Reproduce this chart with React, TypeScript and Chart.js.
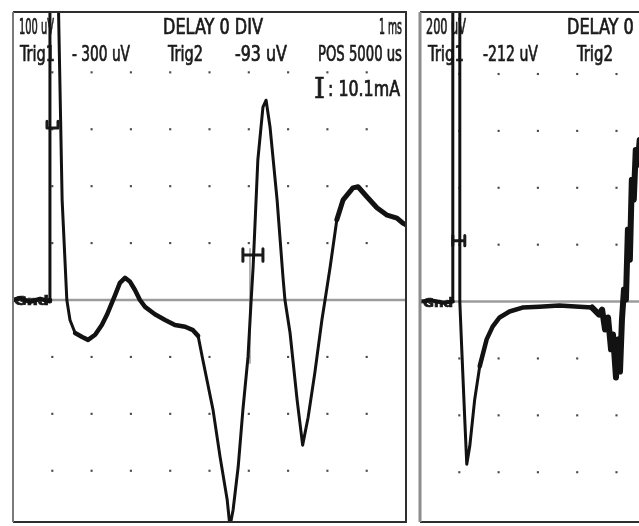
import React, { useEffect, useRef } from "react";
import { Chart, registerables } from "chart.js";

Chart.register(...registerables);

// ---------- Left sweep (1 ms/div, 100 uV/div) ----------
const leftTime = [
  0, 0.18, 0.43, 0.69, 0.92, 0.94, 0.94, 1.15, 1.25, 1.37, 1.45, 1.58, 1.76, 1.91, 2.09, 2.26,
  2.39, 2.6, 2.72, 2.85, 2.98, 3.1, 3.23, 3.36, 3.61, 3.87, 4.12, 4.38, 4.58, 4.71, 4.83, 5.09,
  5.27, 5.45, 5.52, 5.6, 5.73, 5.85, 5.98, 6.06, 6.11, 6.23, 6.36, 6.44, 6.54, 6.72, 6.87, 6.92,
  7.05, 7.23, 7.37, 7.51, 7.68, 7.86, 7.94, 8.07, 8.24, 8.4, 8.65, 8.78, 9.01, 9.26, 9.52, 9.77,
  9.92, 10,
];
const leftVolt = [
  0, 3, -3, 2, -2, 0, 540, 540, 176, 0, -35, -58, -65, -70, -61, -44,
  -26, 9, 30, 39, 32, 18, 0, -12, -25, -35, -44, -47, -53, -63, -105, -193,
  -276, -351, -398, -369, -293, -193, -100, 0, 58, 246, 339, 351, 304, 176, 40, 0,
  -58, -176, -255, -206, -128, -35, 0, 58, 141, 176, 197, 199, 181, 162, 149, 144,
  135, 132,
];
// time ranges (ms) where the scanned trace is thick / noisy
const leftNoisyFrom = [0, 1.6, 8.3];
const leftNoisyTo = [0.93, 4.75, 10];
const leftNoisyWidth = [4.5, 4.5, 5];
const leftMarkTime = [0.865, 0.865, 1.145, 1.145];
const leftMarkVolt = [314, 302, 302, 314];
const leftCursorTime = [5.85, 5.85, 5.85, 6.36, 6.36, 6.36];
const leftCursorVolt = [90, 68, 79, 79, 90, 68];
const leftGuideTime = [6.03, 6.03];
const leftGuideVolt = [90, -111];
const leftGridTimes = [1, 2, 3, 4, 5, 6, 7, 8, 9];
const leftGridVolts = [400, 300, 200, 100, -100, -200, -300];

// ---------- Right sweep (200 uV/div) ----------
const rightTime = [
  0, 0.3, 0.6, 0.835, 0.835, 1.013, 1.013, 1.063, 1.139, 1.19, 1.266, 1.392, 1.519, 1.696,
  1.848, 2.025, 2.278, 2.608, 3.038, 3.544, 4.051, 4.38, 4.557, 4.633, 4.709, 4.785, 4.861,
  4.911, 4.987, 5.038, 5.089, 5.139, 5.19, 5.24, 5.29, 5.34, 5.39, 5.44, 5.49, 5.54, 5.59,
];
const rightVolt = [
  0, 4, -4, 0, 1100, 1100, 0, -168, -414, -572, -509, -344, -228, -133,
  -88, -56, -35, -21, -18, -14, -18, -21, -46, -28, -98, -56, -168,
  -116, -267, -133, -246, -63, 42, 7, 253, 147, 428, 358, 533, 481, 568,
];
const rightNoisyFrom = [0, 1.6, 4.4];
const rightNoisyTo = [0.83, 4.4, 6];
const rightNoisyWidth = [4, 4.5, 6];
const rightMarkTime = [0.835, 0.835, 0.835, 1.14, 1.14, 1.14];
const rightMarkVolt = [232, 196, 214, 214, 232, 196];
const rightGridTimes = [1, 2, 3, 4, 5, 6, 7, 8, 9];
const rightGridVolts = [800, 600, 400, 200, -200, -400, -600];

// ---------- Screen texts ----------
const leftTexts = ["100 uV", "DELAY 0 DIV", "1 ms", "Trig1", "- 300 uV", "Trig2", "-93 uV", "POS 5000 us", "I", ": 10.1mA", "Gnd"];
const rightTexts = ["200 uV", "DELAY 0 DIV", "Trig1", "-212 uV", "Trig2", "Gnd"];

type Label = { text: string; x: number; y: number; w: number; size: number; bold?: boolean; serif?: boolean };

const FONT = `"Liberation Sans Narrow", "DejaVu Sans Condensed", "Liberation Sans", sans-serif`;
const SERIF = `"DejaVu Serif", "Liberation Serif", serif`;

const leftLabels: Label[] = [
  { text: leftTexts[0], x: 19, y: 34, w: 35, size: 21 },
  { text: leftTexts[1], x: 163, y: 34, w: 100, size: 21 },
  { text: leftTexts[2], x: 379, y: 34, w: 23, size: 21 },
  { text: leftTexts[3], x: 20, y: 61, w: 35, size: 21 },
  { text: leftTexts[4], x: 72, y: 61, w: 58, size: 21 },
  { text: leftTexts[5], x: 168, y: 61, w: 35, size: 21 },
  { text: leftTexts[6], x: 235, y: 61, w: 52, size: 21 },
  { text: leftTexts[7], x: 318, y: 61, w: 84, size: 21 },
  { text: leftTexts[8], x: 314, y: 98, w: 11, size: 28, serif: true },
  { text: leftTexts[9], x: 328, y: 96, w: 72, size: 21 },
  { text: leftTexts[10], x: 14, y: 305, w: 35, size: 13, bold: true },
];
const rightLabels: Label[] = [
  { text: rightTexts[0], x: 426, y: 34, w: 40, size: 21 },
  { text: rightTexts[1], x: 567, y: 34, w: 100, size: 21 },
  { text: rightTexts[2], x: 428, y: 61, w: 36, size: 21 },
  { text: rightTexts[3], x: 483, y: 61, w: 55, size: 21 },
  { text: rightTexts[4], x: 577, y: 61, w: 36, size: 21 },
  { text: rightTexts[5], x: 423, y: 307, w: 30, size: 13, bold: true },
];

const BASE_WIDTH = 3;

const pts = (xs: number[], ys: number[]) => xs.map((x, i) => ({ x, y: ys[i] }));
const grid = (ts: number[], vs: number[]) => {
  const out: { x: number; y: number }[] = [];
  vs.forEach((v) => ts.forEach((t) => out.push({ x: t, y: v })));
  return out;
};

function overlay(id: string, labels: Label[], offsetX: number, leftColor: string, leftWidth: number) {
  return {
    id,
    beforeDatasetsDraw(chart: any) {
      const ctx = chart.ctx as CanvasRenderingContext2D;
      ctx.save();
      ctx.fillStyle = "#1a1a1a";
      ctx.strokeStyle = "#1a1a1a";
      ctx.lineWidth = 0.7;
      ctx.textBaseline = "alphabetic";
      for (const l of labels) {
        ctx.font = `${l.bold ? "bold " : ""}${l.size}px ${l.serif ? SERIF : FONT}`;
        const m = ctx.measureText(l.text).width || 1;
        ctx.save();
        ctx.translate(l.x - offsetX, l.y);
        ctx.scale(l.w / m, 1);
        ctx.fillText(l.text, 0, 0);
        ctx.strokeText(l.text, 0, 0);
        ctx.restore();
      }
      ctx.restore();
    },
    afterDraw(chart: any) {
      const ctx = chart.ctx as CanvasRenderingContext2D;
      const a = chart.chartArea;
      ctx.save();
      ctx.strokeStyle = "#2e2e2e";
      ctx.lineWidth = 2;
      ctx.beginPath();
      ctx.moveTo(a.left, a.top);
      ctx.lineTo(a.right, a.top);
      ctx.lineTo(a.right, a.bottom);
      ctx.lineTo(a.left, a.bottom);
      ctx.stroke();
      ctx.strokeStyle = leftColor;
      ctx.lineWidth = leftWidth;
      ctx.beginPath();
      ctx.moveTo(a.left, a.top);
      ctx.lineTo(a.left, a.bottom);
      ctx.stroke();
      ctx.restore();
    },
  };
}

function lineSet(data: { x: number; y: number }[], color: string, width: number, order: number) {
  return {
    data,
    showLine: true,
    borderColor: color,
    backgroundColor: color,
    borderWidth: width,
    pointRadius: 0,
    tension: 0,
    borderJoinStyle: "round" as const,
    borderCapStyle: "round" as const,
    order,
  };
}

function makeConfig(opts: {
  trace: { x: number; y: number }[];
  noisyFrom: number[];
  noisyTo: number[];
  noisyWidth: number[];
  marks: { x: number; y: number }[][];
  guide?: { x: number; y: number }[];
  dots: { x: number; y: number }[];
  yMin: number;
  yMax: number;
  padding: { left: number; right: number; top: number; bottom: number };
  plugin: any;
}) {
  const trace: any = lineSet(opts.trace, "#121212", BASE_WIDTH, 0);
  trace.segment = {
    borderWidth: (c: any) => {
      const mid = (c.p0.parsed.x + c.p1.parsed.x) / 2;
      for (let i = 0; i < opts.noisyFrom.length; i++) {
        if (mid >= opts.noisyFrom[i] && mid <= opts.noisyTo[i]) return opts.noisyWidth[i];
      }
      return BASE_WIDTH;
    },
  };
  const datasets: any[] = [trace];
  opts.marks.forEach((m) => datasets.push(lineSet(m, "#1a1a1a", 3, 1)));
  if (opts.guide) datasets.push(lineSet(opts.guide, "#9a9a9a", 1.5, 2));
  datasets.push(lineSet([{ x: 0, y: 0 }, { x: 10, y: 0 }], "#9c9c9c", 2.5, 3));
  datasets.push({
    data: opts.dots,
    showLine: false,
    pointStyle: "rect",
    pointRadius: 1.5,
    pointBackgroundColor: "#4a4a4a",
    pointBorderWidth: 0,
    order: 4,
  });
  return {
    type: "scatter" as const,
    data: { datasets },
    options: {
      animation: false as const,
      responsive: false,
      events: [] as any[],
      layout: { padding: opts.padding },
      plugins: { legend: { display: false }, tooltip: { enabled: false }, title: { display: false } },
      scales: {
        x: { type: "linear" as const, min: 0, max: 10, display: false },
        y: { type: "linear" as const, min: opts.yMin, max: opts.yMax, display: false },
      },
    },
    plugins: [opts.plugin],
  };
}

export default function App() {
  const leftRef = useRef<HTMLCanvasElement>(null);
  const rightRef = useRef<HTMLCanvasElement>(null);

  useEffect(() => {
    const left = new Chart(
      leftRef.current as HTMLCanvasElement,
      makeConfig({
        trace: pts(leftTime, leftVolt),
        noisyFrom: leftNoisyFrom,
        noisyTo: leftNoisyTo,
        noisyWidth: leftNoisyWidth,
        marks: [pts(leftMarkTime, leftMarkVolt), pts(leftCursorTime, leftCursorVolt)],
        guide: pts(leftGuideTime, leftGuideVolt),
        dots: grid(leftGridTimes, leftGridVolts),
        yMin: -390,
        yMax: 506,
        padding: { left: 13, right: 4, top: 12, bottom: 4 },
        plugin: overlay("leftOverlay", leftLabels, 0, "#7a7a7a", 2),
      }) as any
    );
    const right = new Chart(
      rightRef.current as HTMLCanvasElement,
      makeConfig({
        trace: pts(rightTime, rightVolt),
        noisyFrom: rightNoisyFrom,
        noisyTo: rightNoisyTo,
        noisyWidth: rightNoisyWidth,
        marks: [pts(rightMarkTime, rightMarkVolt)],
        dots: grid(rightGridTimes, rightGridVolts),
        yMin: -775,
        yMax: 1018,
        padding: { left: 10, right: 7, top: 12, bottom: 3 },
        plugin: overlay("rightOverlay", rightLabels, 410, "#8c8c8c", 3),
      }) as any
    );
    return () => {
      left.destroy();
      right.destroy();
    };
  }, []);

  return (
    <div
      style={{
        position: "fixed",
        left: 0,
        top: 0,
        width: 639,
        height: 526,
        overflow: "hidden",
        background: "#ffffff",
      }}
    >
      <canvas ref={leftRef} width={410} height={526} style={{ position: "absolute", left: 0, top: 0 }} />
      <canvas ref={rightRef} width={410} height={526} style={{ position: "absolute", left: 410, top: 0 }} />
    </div>
  );
}
